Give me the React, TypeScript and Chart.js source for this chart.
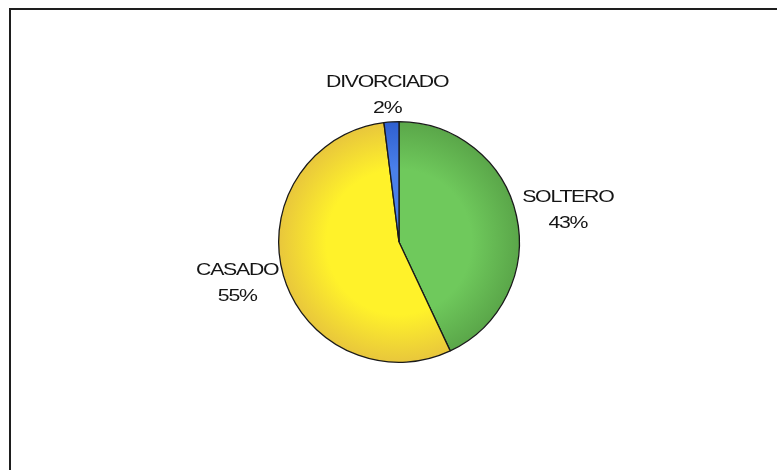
import React, { useEffect, useRef } from "react";
import { Chart, registerables } from "chart.js";

Chart.register(...registerables);

const categories = ["SOLTERO", "CASADO", "DIVORCIADO"];
const values = [43, 55, 2];
const percentLabels = ["43%", "55%", "2%"];
const innerColors = ["#6fc95c", "#fff22a", "#4a80ea"];
const outerColors = ["#5aa649", "#e8c63c", "#2f5fcf"];

const labelPlugin = {
  id: "outsideLabels",
  afterDatasetsDraw(chart: any) {
    const ctx = chart.ctx;
    const meta = chart.getDatasetMeta(0);
    ctx.save();
    ctx.fillStyle = "#151515";
    ctx.textBaseline = "middle";
    ctx.textAlign = "center";
    ctx.font = "17px 'Liberation Sans', Arial, sans-serif";
    (ctx as any).letterSpacing = "-1px";
    const sx = 1.25;
    const lineGap = 26;
    meta.data.forEach((arc: any, i: number) => {
      const mid = (arc.startAngle + arc.endAngle) / 2;
      const r = arc.outerRadius + 7;
      const dx = Math.cos(mid);
      const dy = Math.sin(mid);
      const px = arc.x + r * dx;
      const py = arc.y + r * dy;
      const l1 = categories[i];
      const l2 = percentLabels[i];
      const w = Math.max(ctx.measureText(l1).width, ctx.measureText(l2).width) * sx;
      const h = lineGap + 14;
      const cx = px + (dx * w) / 2;
      const cy = py + (dy * h) / 2;
      [l1, l2].forEach((t, k) => {
        ctx.save();
        ctx.translate(cx, cy + (k === 0 ? -lineGap / 2 : lineGap / 2));
        ctx.scale(sx, 1);
        ctx.fillText(t, 0, 0);
        ctx.restore();
      });
    });
    ctx.restore();
  },
};

const framePlugin = {
  id: "frame",
  beforeDraw(chart: any) {
    const ctx = chart.ctx;
    ctx.save();
    ctx.fillStyle = "#ffffff";
    ctx.fillRect(0, 0, chart.width, chart.height);
    ctx.strokeStyle = "#1e1e1e";
    ctx.lineWidth = 2;
    ctx.beginPath();
    ctx.moveTo(10, chart.height);
    ctx.lineTo(10, 9);
    ctx.lineTo(chart.width, 9);
    ctx.stroke();
    ctx.restore();
  },
};

export default function App() {
  const ref = useRef<HTMLCanvasElement>(null);
  useEffect(() => {
    document.body.style.margin = "0";
    const canvas = ref.current!;
    const chart = new Chart(canvas, {
      type: "pie",
      data: {
        labels: categories,
        datasets: [
          {
            data: values,
            backgroundColor: (c: any) => {
              const ch = c.chart;
              const area = ch.chartArea;
              if (!area) return innerColors[c.dataIndex];
              const x = (area.left + area.right) / 2;
              const y = (area.top + area.bottom) / 2;
              const r = Math.min(area.width, area.height) / 2;
              const g = ch.ctx.createRadialGradient(x, y, 0, x, y, r);
              g.addColorStop(0, innerColors[c.dataIndex]);
              g.addColorStop(0.6, innerColors[c.dataIndex]);
              g.addColorStop(1, outerColors[c.dataIndex]);
              return g;
            },
            borderColor: "#1a1a1a",
            borderWidth: 1.3,
          },
        ],
      },
      options: {
        responsive: false,
        animation: false,
        rotation: 0,
        layout: { padding: { top: 121, bottom: 107, left: 278, right: 257 } },
        plugins: {
          legend: { display: false },
          tooltip: { enabled: false },
          title: { display: false },
        },
      },
      plugins: [framePlugin, labelPlugin],
    });
    return () => chart.destroy();
  }, []);
  return (
    <div style={{ width: 777, height: 470 }}>
      <canvas ref={ref} width={777} height={470} style={{ display: "block" }} />
    </div>
  );
}
